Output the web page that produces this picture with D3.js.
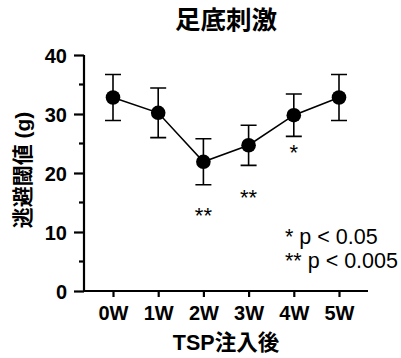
<!DOCTYPE html>
<html>
<head>
<meta charset="utf-8">
<script src="https://cdn.jsdelivr.net/npm/d3@7"></script>
<style>
  body { margin: 0; background: #fff; }
  text { font-family: "Liberation Sans", Arial, "Noto Sans CJK JP", sans-serif; fill: #000; }
</style>
</head>
<body>
<svg id="chart" width="401" height="358"></svg>
<script>
// data
const weeks = ["0W", "1W", "2W", "3W", "4W", "5W"];
const means = [32.8, 30.2, 21.9, 24.7, 29.8, 32.8];
const sems = [3.9, 4.2, 3.9, 3.4, 3.6, 3.9];
const sigMarks = ["", "", "**", "**", "*", ""];
const sigLevel = [0, 0, 13.7, 16.8, 24.4, 0]; // where the stars sit (in g)
const yMajor = [0, 10, 20, 30, 40];
const yMinor = [5, 15, 25, 35];
const legendLines = ["* p < 0.05", "** p < 0.005"];

const svg = d3.select("#chart");

const x = d3.scalePoint()
  .domain(weeks)
  .range([113, 339]);

const y = d3.scaleLinear()
  .domain([0, 40])
  .range([291, 55]);

const axisX = 84;

// title
svg.append("text")
  .attr("x", 226)
  .attr("y", 29)
  .attr("text-anchor", "middle")
  .style("font-size", "25.5px")
  .style("font-weight", "bold")
  .text("足底刺激");

// y axis
const gy = svg.append("g").attr("transform", `translate(${axisX},0)`);
gy.call(d3.axisLeft(y).tickValues(yMajor).tickSize(10).tickPadding(7).tickFormat(d3.format("d")));
gy.select(".domain").remove();
gy.append("line")
  .attr("y1", y(40)).attr("y2", y(0) + 1)
  .attr("stroke", "#000").attr("stroke-width", 2.2);
gy.selectAll(".tick line").attr("stroke-width", 2.2);
gy.selectAll(".tick text")
  .style("font-size", "20px")
  .style("font-weight", "bold")
  .attr("dy", "0.36em");
gy.selectAll(".minor")
  .data(yMinor)
  .join("line")
  .attr("class", "minor")
  .attr("x1", -5).attr("x2", 0)
  .attr("y1", d => y(d)).attr("y2", d => y(d))
  .attr("stroke", "#000").attr("stroke-width", 2.2);

// x axis
const gx = svg.append("g").attr("transform", `translate(0,${y(0)})`);
gx.call(d3.axisBottom(x).tickSize(6).tickPadding(9));
gx.select(".domain").remove();
gx.append("line")
  .attr("x1", axisX).attr("x2", 368)
  .attr("stroke", "#000").attr("stroke-width", 2.2);
gx.selectAll(".tick line").attr("stroke-width", 2.2);
gx.selectAll(".tick text")
  .style("font-size", "20px")
  .style("font-weight", "bold");

// axis titles
svg.append("text")
  .attr("x", 226)
  .attr("y", 350)
  .attr("text-anchor", "middle")
  .style("font-size", "21.5px")
  .style("font-weight", "bold")
  .text("TSP注入後");

svg.append("text")
  .attr("transform", "translate(30,170) rotate(-90)")
  .attr("text-anchor", "middle")
  .style("font-size", "21px")
  .style("font-weight", "bold")
  .text("逃避閾値 (g)");

// data
const pts = weeks.map((w, i) => ({ w, m: means[i], s: sems[i], sig: sigMarks[i], sl: sigLevel[i] }));

const err = svg.append("g")
  .attr("stroke", "#000")
  .attr("stroke-width", 1.6)
  .attr("fill", "none");

err.selectAll(".bar")
  .data(pts)
  .join("path")
  .attr("d", d => {
    const cx = x(d.w), top = y(d.m + d.s), bot = y(d.m - d.s);
    return `M${cx},${top}V${bot}M${cx - 8},${top}H${cx + 8}M${cx - 8},${bot}H${cx + 8}`;
  });

svg.append("path")
  .datum(pts)
  .attr("fill", "none")
  .attr("stroke", "#000")
  .attr("stroke-width", 1.6)
  .attr("d", d3.line().x(d => x(d.w)).y(d => y(d.m)));

svg.selectAll(".dot")
  .data(pts)
  .join("circle")
  .attr("class", "dot")
  .attr("cx", d => x(d.w))
  .attr("cy", d => y(d.m))
  .attr("r", 7.3)
  .attr("fill", "#000");

svg.selectAll(".sig")
  .data(pts.filter(d => d.sig))
  .join("text")
  .attr("class", "sig")
  .attr("x", d => x(d.w))
  .attr("y", d => y(d.sl) + 13)
  .attr("text-anchor", "middle")
  .style("font-size", "22px")
  .text(d => d.sig);

// legend
svg.selectAll(".leg")
  .data(legendLines)
  .join("text")
  .attr("class", "leg")
  .attr("x", 285)
  .attr("y", (d, i) => 244 + i * 24)
  .style("font-size", "21.5px")
  .text(d => d);
</script>
</body>
</html>
